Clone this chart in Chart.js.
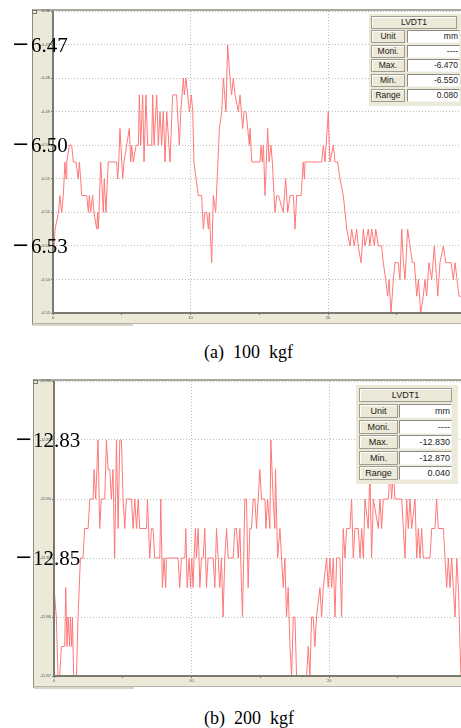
<!DOCTYPE html>
<html>
<head>
<meta charset="utf-8">
<script src="https://cdn.jsdelivr.net/npm/chart.js@4.4.1/dist/chart.umd.min.js"></script>
<style>
  body { margin: 0; background: #fff; width: 461px; height: 728px; position: relative; overflow: hidden; }
  canvas { position: absolute; left: 0; }
  .cap { position: absolute; font-family: "Liberation Serif", serif; font-size: 18px; line-height: 18px; white-space: pre; color: #000; }
  .tbl { position: absolute; background: #ece9d8; font-family: "Liberation Sans", Arial, sans-serif; color: #1a1a1a; }
  .tbl div { position: absolute; box-sizing: border-box; white-space: nowrap; overflow: hidden; }
  .tbl .hd { background: #ece9d8; border: 1px solid #9d9d92; box-shadow: inset 1px 1px 0 #fff; text-align: center; }
  .tbl .val { background: #fff; border: 1px solid; border-color: #8a8a80 #f4f4f0 #f4f4f0 #8a8a80; text-align: right; padding-right: 1px; }
</style>
</head>
<body>
<canvas id="chartA" width="461" height="326" style="top:0"></canvas>
<canvas id="chartB" width="461" height="320" style="top:370px"></canvas>
<div class="cap" style="left:204px;top:343px">(a)  100  kgf</div>
<div class="cap" style="left:204px;top:709px">(b)  200  kgf</div>
<div class="tbl" id="tblA"></div>
<div class="tbl" id="tblB"></div>
<script>
// (a) 100 kgf : [time, displacement mm]
const pointsA = [
  [0.00,-6.535],[0.15,-6.525],[0.4,-6.52],[0.5,-6.515],[0.63,-6.52],[0.75,-6.515],[0.87,-6.505],[0.95,-6.51],
  [1.0,-6.505],[1.19,-6.50],[1.36,-6.50],[1.48,-6.505],[1.67,-6.505],[1.84,-6.51],[1.92,-6.505],[2.01,-6.51],
  [2.08,-6.515],[2.45,-6.515],[2.57,-6.52],[2.64,-6.515],[2.74,-6.52],[2.88,-6.515],[2.98,-6.52],[3.18,-6.525],
  [3.25,-6.52],[3.3,-6.525],[3.47,-6.505],[3.66,-6.52],[3.73,-6.51],[3.85,-6.52],[4.02,-6.505],[4.63,-6.505],
  [4.7,-6.51],[4.78,-6.505],[4.87,-6.495],[5.07,-6.51],[5.16,-6.505],[5.55,-6.495],[5.65,-6.505],[5.72,-6.50],
  [5.84,-6.505],[6.04,-6.50],[6.21,-6.50],[6.28,-6.485],[6.38,-6.50],[6.52,-6.485],[6.62,-6.505],[6.76,-6.485],
  [6.88,-6.50],[7.18,-6.50],[7.25,-6.485],[7.35,-6.50],[7.54,-6.485],[7.66,-6.50],[7.78,-6.49],[7.9,-6.50],
  [8.02,-6.49],[8.15,-6.505],[8.27,-6.49],[8.51,-6.505],[8.7,-6.485],[8.99,-6.485],[9.19,-6.50],[9.29,-6.49],
  [9.48,-6.48],[9.55,-6.485],[9.67,-6.48],[9.92,-6.49],[10.06,-6.485],[10.16,-6.49],[10.25,-6.505],[10.4,-6.51],
  [10.57,-6.515],[10.81,-6.515],[10.93,-6.525],[11.05,-6.52],[11.18,-6.52],[11.3,-6.525],[11.37,-6.52],[11.54,-6.535],
  [11.66,-6.515],[11.83,-6.52],[12.1,-6.495],[12.27,-6.49],[12.39,-6.48],[12.58,-6.49],[12.7,-6.47],[12.87,-6.48],
  [12.99,-6.485],[13.11,-6.48],[13.24,-6.485],[13.48,-6.49],[13.6,-6.485],[13.79,-6.495],[13.89,-6.49],[14.04,-6.49],
  [14.28,-6.50],[14.33,-6.495],[14.45,-6.505],[15.05,-6.505],[15.13,-6.50],[15.22,-6.505],[15.3,-6.50],[15.42,-6.515],
  [15.61,-6.495],[15.71,-6.505],[15.85,-6.50],[15.95,-6.505],[16.14,-6.52],[16.27,-6.515],[16.39,-6.515],[16.75,-6.52],
  [16.92,-6.51],[17.07,-6.52],[17.24,-6.515],[17.48,-6.515],[17.6,-6.525],[17.72,-6.515],[18.04,-6.515],[18.2,-6.505],
  [18.28,-6.51],[18.33,-6.505],[19.54,-6.505],[19.66,-6.50],[19.78,-6.505],[20.02,-6.49],[20.14,-6.505],[20.39,-6.50],
  [20.51,-6.505],[20.7,-6.505],[20.87,-6.51],[21.11,-6.515],[21.24,-6.52],[21.36,-6.525],[21.6,-6.53],[21.72,-6.525],
  [21.91,-6.53],[22.08,-6.525],[22.2,-6.53],[22.4,-6.535],[22.57,-6.525],[22.69,-6.53],[22.93,-6.525],[23.05,-6.53],
  [23.17,-6.525],[23.37,-6.53],[23.47,-6.525],[23.66,-6.53],[23.9,-6.53],[24.02,-6.535],[24.19,-6.54],[24.34,-6.545],
  [24.44,-6.54],[24.58,-6.55],[24.75,-6.54],[24.87,-6.535],[25.11,-6.535],[25.23,-6.54],[25.36,-6.525],[25.48,-6.535],
  [25.6,-6.54],[25.79,-6.525],[25.96,-6.53],[26.13,-6.535],[26.28,-6.535],[26.45,-6.545],[26.57,-6.54],[26.74,-6.55],
  [26.93,-6.545],[27.05,-6.54],[27.17,-6.545],[27.34,-6.535],[27.54,-6.54],[27.73,-6.53],[27.9,-6.54],[27.98,-6.545],
  [28.14,-6.535],[28.39,-6.53],[28.56,-6.535],[28.95,-6.535],[29.11,-6.54],[29.24,-6.535],[29.38,-6.54],[29.53,-6.545],
  [29.75,-6.545]
];

// (b) 200 kgf
const pointsB = [
  [0,-12.855],[0.17,-12.86],[0.29,-12.87],[0.41,-12.87],[0.54,-12.865],[0.78,-12.865],[0.85,-12.855],[0.95,-12.865],
  [1.02,-12.86],[1.14,-12.865],[1.19,-12.86],[1.29,-12.865],[1.34,-12.86],[1.43,-12.87],[1.63,-12.87],[1.75,-12.86],
  [1.92,-12.85],[2.11,-12.85],[2.23,-12.845],[2.48,-12.845],[2.6,-12.84],[2.84,-12.84],[2.91,-12.835],[3.03,-12.84],
  [3.2,-12.83],[3.32,-12.845],[3.44,-12.84],[3.69,-12.84],[3.81,-12.83],[3.93,-12.835],[4.05,-12.835],[4.17,-12.84],
  [4.29,-12.835],[4.41,-12.85],[4.54,-12.83],[4.66,-12.845],[4.78,-12.83],[4.9,-12.83],[5.02,-12.84],[5.14,-12.845],
  [5.26,-12.84],[5.63,-12.84],[5.75,-12.845],[5.87,-12.84],[6.0,-12.845],[6.12,-12.84],[6.23,-12.845],[6.72,-12.845],
  [6.79,-12.84],[6.96,-12.85],[7.08,-12.845],[7.2,-12.845],[7.32,-12.85],[7.69,-12.85],[7.76,-12.84],[7.88,-12.855],
  [8.0,-12.85],[8.12,-12.855],[8.17,-12.85],[9.02,-12.85],[9.14,-12.855],[9.26,-12.85],[9.51,-12.85],[9.58,-12.845],
  [9.68,-12.855],[9.82,-12.85],[9.92,-12.855],[10.01,-12.85],[10.11,-12.855],[10.18,-12.85],[10.28,-12.845],[10.35,-12.85],
  [10.48,-12.845],[10.6,-12.855],[10.72,-12.85],[10.84,-12.85],[10.96,-12.845],[11.08,-12.855],[11.2,-12.85],[11.57,-12.85],
  [11.69,-12.855],[11.81,-12.845],[11.93,-12.85],[12.05,-12.855],[12.17,-12.85],[12.29,-12.86],[12.41,-12.85],[12.54,-12.845],
  [12.66,-12.85],[13.02,-12.85],[13.14,-12.845],[13.26,-12.845],[13.39,-12.85],[13.51,-12.845],[13.63,-12.855],[13.7,-12.86],
  [13.87,-12.84],[13.99,-12.84],[14.11,-12.855],[14.23,-12.845],[14.35,-12.845],[14.48,-12.84],[14.6,-12.84],[14.72,-12.845],
  [14.84,-12.84],[14.96,-12.835],[15.08,-12.84],[15.33,-12.84],[15.4,-12.845],[15.52,-12.84],[15.69,-12.845],[15.76,-12.83],
  [15.93,-12.84],[16.05,-12.845],[16.1,-12.835],[16.25,-12.85],[16.42,-12.845],[16.54,-12.85],[16.66,-12.855],[16.78,-12.85],
  [16.9,-12.86],[17.02,-12.855],[17.15,-12.865],[17.27,-12.87],[17.39,-12.86],[17.51,-12.86],[17.63,-12.87],[18.36,-12.87],
  [18.48,-12.865],[18.6,-12.87],[18.72,-12.86],[18.84,-12.86],[18.96,-12.865],[19.08,-12.86],[19.33,-12.855],[19.45,-12.86],
  [19.57,-12.855],[19.81,-12.85],[19.93,-12.855],[20.05,-12.85],[20.18,-12.855],[20.3,-12.85],[20.42,-12.86],[20.54,-12.85],
  [20.78,-12.85],[20.9,-12.86],[21.02,-12.845],[21.15,-12.85],[21.27,-12.845],[21.51,-12.845],[21.63,-12.84],[21.75,-12.85],
  [21.87,-12.845],[22.12,-12.845],[22.24,-12.85],[22.36,-12.845],[22.48,-12.85],[22.6,-12.84],[22.84,-12.845],[22.96,-12.835],
  [23.08,-12.85],[23.21,-12.84],[23.57,-12.845],[23.69,-12.84],[23.81,-12.845],[23.93,-12.84],[24.3,-12.84],[24.42,-12.835],
  [24.54,-12.84],[24.66,-12.835],[24.78,-12.84],[25.27,-12.84],[25.39,-12.845],[25.51,-12.85],[25.63,-12.84],[25.75,-12.845],
  [25.87,-12.84],[25.99,-12.845],[26.24,-12.84],[26.36,-12.85],[26.48,-12.845],[26.6,-12.85],[26.72,-12.845],[26.84,-12.85],
  [27.33,-12.85],[27.45,-12.845],[27.69,-12.845],[27.81,-12.84],[27.93,-12.845],[28.3,-12.845],[28.42,-12.85],[28.54,-12.855],
  [28.66,-12.85],[28.78,-12.855],[28.9,-12.85],[29.02,-12.855],[29.15,-12.86],[29.27,-12.85],[29.39,-12.855],[29.51,-12.865],
  [29.58,-12.87]
];

const xTicks = [0, 5, 10, 15, 20, 25];
const yTicksA = [-6.46, -6.47, -6.48, -6.49, -6.50, -6.51, -6.52, -6.53, -6.54, -6.55];
const yTicksB = [-12.82, -12.83, -12.84, -12.85, -12.86, -12.87];
const bigLabelsA = [-6.47, -6.50, -6.53];
const bigLabelsB = [-12.83, -12.85];

const statRows = ['Unit', 'Moni.', 'Max.', 'Min.', 'Range'];
const statValsA = ['mm', '----', '-6.470', '-6.550', '0.080'];
const statValsB = ['mm', '----', '-12.830', '-12.870', '0.040'];

// window chrome + big serif overlay labels
const framePlugin = {
  id: 'frame',
  beforeDraw(chart, args, opts) {
    const { ctx, chartArea: a } = chart;
    const stripBottom = a.bottom + 10;
    ctx.save();
    ctx.fillStyle = '#ece9d8';
    ctx.fillRect(opts.left, opts.top, chart.width - opts.left, stripBottom - opts.top);
    ctx.fillStyle = '#fff';
    ctx.fillRect(a.left, a.top, a.right - a.left, a.bottom - a.top);
    ctx.fillStyle = '#a8a89c';
    ctx.fillRect(opts.left, opts.top, chart.width - opts.left, 2);
    ctx.fillStyle = '#8c8c84';
    ctx.fillRect(opts.left, opts.top, 1, stripBottom - opts.top + 2);
    // scrollbar line under the time axis
    ctx.fillStyle = '#b4b4aa';
    ctx.fillRect(opts.left, stripBottom, chart.width - opts.left, 1);
    ctx.fillStyle = '#d8d6c8';
    ctx.fillRect(opts.left + 1, stripBottom + 1, 100, 2);
    // small icon top-left
    ctx.strokeStyle = '#777';
    ctx.lineWidth = 1;
    ctx.strokeRect(opts.left + 0.5, opts.top + 1.5, 4, 3);
    ctx.restore();
  },
  afterDraw(chart, args, opts) {
    const { ctx, chartArea: a } = chart;
    ctx.save();
    ctx.fillStyle = '#7a7a72';
    ctx.fillRect(a.left - 1, a.top, 2, a.bottom - a.top + 1);
    ctx.fillRect(a.left - 1, a.bottom - 1, a.right - a.left + 1, 2);
    ctx.fillStyle = '#000';
    ctx.textBaseline = 'alphabetic';
    opts.marks.forEach(v => {
      const y = chart.scales.y.getPixelForValue(v) + 7;
      ctx.font = '21px "DejaVu Serif", serif';
      ctx.fillText('\u2212', opts.minusX, y - 1);
      ctx.font = '21px "Liberation Serif", serif';
      ctx.fillText(Math.abs(v).toFixed(2), opts.numX, y);
    });
    ctx.restore();
  }
};

const makeChart = (id, points, yTicks, xMax, frame, pad) => {
  return new Chart(document.getElementById(id), {
    type: 'line',
    data: {
      datasets: [{
        data: points.map(p => ({ x: p[0], y: p[1] })),
        borderColor: '#ff7878',
        borderWidth: 1,
        pointRadius: 0,
        tension: 0,
        fill: false
      }]
    },
    options: {
      responsive: false,
      animation: false,
      events: [],
      layout: { padding: pad },
      plugins: { legend: { display: false }, tooltip: { enabled: false }, frame: frame },
      scales: {
        x: {
          type: 'linear',
          min: 0,
          max: xMax,
          afterBuildTicks: s => { s.ticks = xTicks.map(v => ({ value: v })); },
          afterFit: s => { s.height = 10; },
          grid: {
            color: c => (c.tick && c.tick.value % 10 === 0 && c.tick.value !== 0) ? '#bdbdbd' : 'rgba(0,0,0,0)',
            tickColor: '#6e6e66',
            tickLength: 2,
            lineWidth: 1
          },
          border: { display: false, dash: [1, 2] },
          ticks: {
            autoSkip: false,
            maxRotation: 0,
            padding: 0,
            color: '#555',
            font: { size: 4, family: 'Liberation Sans' },
            callback: v => (v % 10 === 0 ? String(v) : '')
          }
        },
        y: {
          type: 'linear',
          min: yTicks[yTicks.length - 1],
          max: yTicks[0],
          afterBuildTicks: s => { s.ticks = yTicks.map(v => ({ value: v })); },
          afterFit: s => { s.width = 21; },
          grid: { color: '#bdbdbd', tickColor: '#6e6e66', tickLength: 2, lineWidth: 1 },
          border: { display: false, dash: [1, 2] },
          ticks: {
            autoSkip: false,
            padding: 1,
            color: '#555',
            font: { size: 4, family: 'Liberation Sans' },
            callback: v => v.toFixed(2)
          }
        }
      }
    },
    plugins: [framePlugin]
  });
};

makeChart('chartA', pointsA, yTicksA, 29.67,
  { left: 32, top: 9, marks: bigLabelsA, minusX: 12, numX: 31 },
  { left: 32, top: 11, right: 0, bottom: 3 });

makeChart('chartB', pointsB, yTicksB, 29.58,
  { left: 33, top: 9, marks: bigLabelsB, minusX: 15, numX: 33 },
  { left: 33, top: 11, right: 0, bottom: 4 });

// stats boxes
const buildTable = (el, vals, g) => {
  el.style.left = g.left + 'px';
  el.style.top = g.top + 'px';
  el.style.width = g.width + 'px';
  el.style.height = g.height + 'px';
  el.style.fontSize = g.font + 'px';
  let html = `<div class="hd" style="left:${g.hx}px;top:${g.hy}px;width:${g.hw}px;height:${g.rh}px;line-height:${g.rh - 2}px">LVDT1</div>`;
  statRows.forEach((name, i) => {
    const y = g.ry + i * g.pitch;
    html += `<div class="hd" style="left:${g.hx}px;top:${y}px;width:${g.lw}px;height:${g.rh}px;line-height:${g.rh - 2}px">${name}</div>`;
    html += `<div class="val" style="left:${g.vx}px;top:${y}px;width:${g.vw}px;height:${g.rh}px;line-height:${g.rh - 2}px">${vals[i]}</div>`;
  });
  el.innerHTML = html;
};

buildTable(document.getElementById('tblA'), statValsA,
  { left: 369, top: 14, width: 92, height: 92, font: 8.5, hx: 2, hy: 2, hw: 86, rh: 13, ry: 16, pitch: 14.7, lw: 34, vx: 38, vw: 53 });
buildTable(document.getElementById('tblB'), statValsB,
  { left: 356, top: 385, width: 102, height: 99, font: 9, hx: 3, hy: 3, hw: 93, rh: 14, ry: 19, pitch: 15.6, lw: 39, vx: 43, vw: 53 });
</script>
</body>
</html>
